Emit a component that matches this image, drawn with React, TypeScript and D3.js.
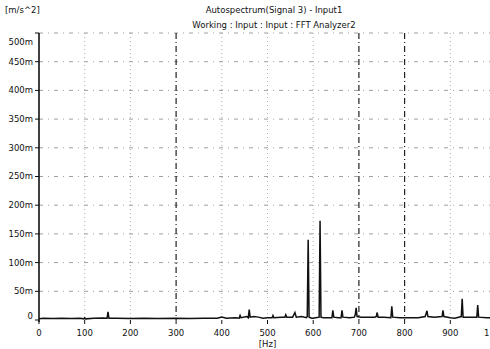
import { useEffect, useRef } from 'react';
import * as d3 from 'd3';

// spectrum: [Hz], amplitude in milli m/s^2
const spectrumHz = [
  0, 10, 30, 50, 70, 90, 98, 100, 102, 120, 140, 149, 151, 153, 170, 200, 230, 260, 300, 330,
  360, 390, 400, 410, 430, 438, 440, 442, 455, 458, 460, 462, 470, 480, 490, 500, 510, 512, 514, 530,
  538, 540, 542, 555, 560, 563, 575, 585, 587, 589, 591, 597, 600, 605, 613, 615, 617, 622, 630, 641,
  643, 645, 655, 661, 663, 665, 680, 690, 692, 694, 696, 705, 720, 735, 738, 740, 742, 755, 770, 772,
  774, 790, 810, 830, 845, 849, 851, 865, 882, 884, 886, 900, 910, 924, 926, 928, 940, 958, 960, 962,
  980, 1000,
];
const spectrumAmp = [
  2, 3, 2.5, 3, 2.5, 3, 2, 4, 2, 3, 3.5, 3, 14, 3, 3, 2.5, 3, 2.5, 3, 2.5,
  3, 3, 5, 3, 4, 3, 8, 4, 6, 4, 18, 5, 6, 5, 3, 4, 4, 8, 4, 5,
  5, 9, 5, 5, 13, 5, 6, 4, 6, 140, 5, 3, 3, 4, 5, 173, 5, 4, 4, 4,
  17, 5, 4, 4, 17, 5, 4, 5, 9, 21, 6, 5, 5, 5, 6, 13, 5, 5, 4, 24,
  5, 4, 4, 4, 6, 16, 6, 5, 6, 17, 6, 4, 3, 6, 37, 5, 5, 5, 26, 5,
  4, 4,
];

const xTicks = [0, 100, 200, 300, 400, 500, 600, 700, 800, 900, 1000];
const xTickLabels = ['0', '100', '200', '300', '400', '500', '600', '700', '800', '900', '1'];
const yTicks = [0, 50, 100, 150, 200, 250, 300, 350, 400, 450, 500];
const yTickLabels = ['0', '50m', '100m', '150m', '200m', '250m', '300m', '350m', '400m', '450m', '500m'];
const darkGridHz = [300, 700, 800];

const titleLines = ['Autospectrum(Signal 3) - Input1', 'Working : Input : Input : FFT Analyzer2'];

export default function App() {
  const ref = useRef<SVGSVGElement>(null);

  useEffect(() => {
    if (!ref.current) return;
    const svg = d3.select(ref.current);
    svg.selectAll('*').remove();

    const font = '"DejaVu Sans", Verdana, sans-serif';
    const x = d3.scaleLinear().domain([0, 1000]).range([39, 496]);
    const y = d3.scaleLinear().domain([0, 500]).range([320, 33]);

    svg.append('rect').attr('width', 490).attr('height', 349).attr('fill', '#fff');

    // grid
    svg.append('g')
      .selectAll('line')
      .data(yTicks.slice(1))
      .join('line')
      .attr('x1', x(0)).attr('x2', 490)
      .attr('y1', d => y(d)).attr('y2', d => y(d))
      .attr('stroke', '#888')
      .attr('stroke-width', 0.8)
      .attr('stroke-dasharray', '4,5,1,5');

    svg.append('g')
      .selectAll('line')
      .data(xTicks.slice(1))
      .join('line')
      .attr('x1', d => x(d)).attr('x2', d => x(d))
      .attr('y1', y(500)).attr('y2', y(0))
      .attr('stroke', d => (darkGridHz.includes(d) ? '#222' : '#999'))
      .attr('stroke-width', d => (darkGridHz.includes(d) ? 1.2 : 0.8))
      .attr('stroke-dasharray', d => (darkGridHz.includes(d) ? '6,3,1,3' : '1,3'));

    // y axis
    const yAxis = svg.append('g').attr('transform', `translate(${x(0)},0)`);
    yAxis.append('line')
      .attr('y1', y(500)).attr('y2', y(0) + 2)
      .attr('stroke', '#111').attr('stroke-width', 1.6);
    yAxis.selectAll('line.tick')
      .data(yTicks)
      .join('line')
      .attr('class', 'tick')
      .attr('x1', -4).attr('x2', 0)
      .attr('y1', d => y(d)).attr('y2', d => y(d))
      .attr('stroke', '#111');
    yAxis.selectAll('text')
      .data(yTicks)
      .join('text')
      .attr('x', -6)
      .attr('y', d => (d === 500 ? y(d) + 9 : d === 0 ? y(d) - 4 : y(d)))
      .attr('dy', '0.35em')
      .attr('text-anchor', 'end')
      .style('font-family', font)
      .style('font-size', '8.5px')
      .attr('fill', '#111')
      .text((_d, i) => yTickLabels[i]);

    // x ticks
    const xAxis = svg.append('g').attr('transform', `translate(0,${y(0)})`);
    xAxis.selectAll('line')
      .data(xTicks)
      .join('line')
      .attr('x1', d => x(d)).attr('x2', d => x(d))
      .attr('y1', 0).attr('y2', 4)
      .attr('stroke', '#111');
    xAxis.selectAll('text')
      .data(xTicks)
      .join('text')
      .attr('x', d => (d === 1000 ? 484 : x(d)))
      .attr('y', 16)
      .attr('text-anchor', d => (d === 1000 ? 'start' : 'middle'))
      .style('font-family', font)
      .style('font-size', '8.5px')
      .attr('fill', '#111')
      .text((_d, i) => xTickLabels[i]);

    svg.append('text')
      .attr('x', x(500)).attr('y', 347)
      .attr('text-anchor', 'middle')
      .style('font-family', font).style('font-size', '8.5px')
      .attr('fill', '#111')
      .text('[Hz]');

    // spectrum
    const pts = spectrumHz.map((f, i) => [f, spectrumAmp[i]] as [number, number]);
    const line = d3.line<[number, number]>().x(d => x(d[0])).y(d => y(d[1]));
    svg.append('path')
      .datum(pts)
      .attr('d', line)
      .attr('fill', 'none')
      .attr('stroke', '#111')
      .attr('stroke-width', 1.5)
      .attr('stroke-linejoin', 'miter');

    // unit + title
    svg.append('text')
      .attr('x', 5).attr('y', 13)
      .style('font-family', font).style('font-size', '8.5px')
      .attr('fill', '#111')
      .text('[m/s^2]');

    svg.append('g')
      .selectAll('text')
      .data(titleLines)
      .join('text')
      .attr('x', 274)
      .attr('y', (_d, i) => 13 + i * 15)
      .attr('text-anchor', 'middle')
      .style('font-family', font)
      .style('font-size', '8.5px')
      .attr('fill', '#111')
      .text(d => d);
  }, []);

  return (
    <svg
      ref={ref}
      width={490}
      height={349}
      style={{ position: 'absolute', left: 0, top: 0, display: 'block' }}
    />
  );
}
